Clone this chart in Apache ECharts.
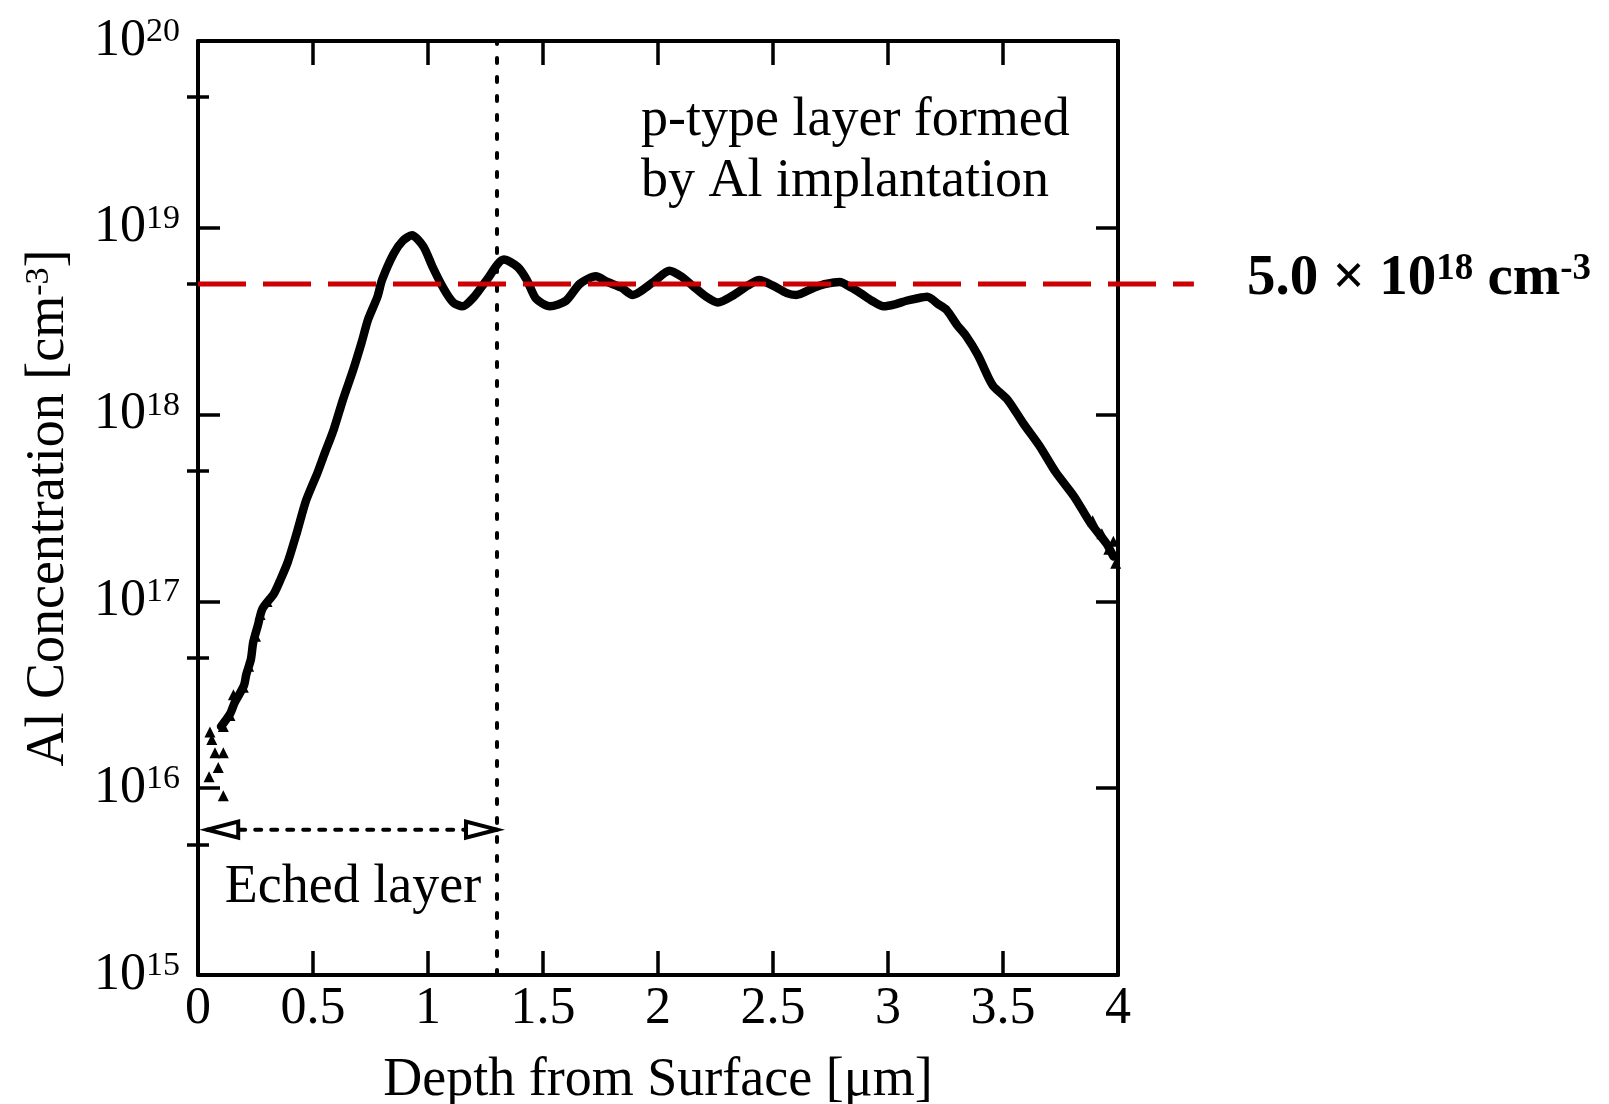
<!DOCTYPE html>
<html>
<head>
<meta charset="utf-8">
<script src="https://cdn.jsdelivr.net/npm/echarts@6/dist/echarts.min.js"></script>
<style>
html,body{margin:0;padding:0;background:#fff;width:1609px;height:1104px;overflow:hidden;}
#chart{width:1609px;height:1104px;display:block;}
</style>
</head>
<body>
<div id="chart"></div>
<script>
// ---- data (depth in µm, Al concentration in cm^-3) ----
const depth = [0.10,0.14,0.16,0.20,0.21,0.23,0.24,0.26,0.28,0.33,0.36,0.39,0.43,0.47,0.52,0.55,0.59,0.63,0.675,0.71,
  0.74,0.78,0.80,0.85,0.89,0.93,0.98,1.02,1.07,1.11,1.15,1.20,1.255,1.33,1.39,1.43,1.47,1.53,1.60,1.66,
  1.73,1.78,1.84,1.89,1.98,2.05,2.10,2.15,2.21,2.26,2.33,2.39,2.44,2.50,2.56,2.60,2.68,2.73,2.79,2.84,
  2.88,2.93,2.98,3.03,3.08,3.12,3.17,3.22,3.255,3.30,3.34,3.39,3.44,3.46,3.52,3.59,3.66,3.73,3.81,3.88,
  3.95,3.98];
const concentration = [2.14e16,2.51e16,2.88e16,3.55e16,4.07e16,4.90e16,6.03e16,7.41e16,9.12e16,1.10e17,1.32e17,1.62e17,2.34e17,3.47e17,4.90e17,6.17e17,8.32e17,1.20e18,1.74e18,2.40e18,
  3.24e18,4.27e18,5.25e18,7.24e18,8.51e18,9.12e18,7.94e18,6.17e18,4.68e18,3.98e18,3.80e18,4.27e18,5.25e18,6.76e18,6.17e18,5.25e18,4.17e18,3.80e18,4.07e18,5.01e18,
  5.50e18,5.13e18,4.79e18,4.37e18,5.13e18,5.89e18,5.50e18,4.90e18,4.27e18,3.98e18,4.37e18,4.90e18,5.25e18,4.90e18,4.47e18,4.37e18,4.79e18,5.01e18,5.13e18,4.79e18,
  4.47e18,4.07e18,3.80e18,3.89e18,4.07e18,4.17e18,4.27e18,3.89e18,3.63e18,3.02e18,2.63e18,2.09e18,1.55e18,1.41e18,1.20e18,8.91e17,6.76e17,4.90e17,3.63e17,2.63e17,
  2.04e17,1.74e17];
// scattered individual SIMS points (triangles) at the noisy ends
const scatterDepth = [0.048,0.11,0.088,0.074,0.11,0.06,0.052,0.11,0.139,0.154,0.197,0.22,0.25,0.27,0.30,3.96,3.99,3.98,3.93,3.89];
const scatterConc  = [1.15e16,9.1e15,1.29e16,1.55e16,1.55e16,1.82e16,2.0e16,2.14e16,2.45e16,3.16e16,3.47e16,4.5e16,6.5e16,8.5e16,1.0e17,1.9e17,1.6e17,2.1e17,2.3e17,2.7e17];

const xTicks = [0,0.5,1,1.5,2,2.5,3,3.5,4];
const yMin = 1e15, yMax = 1e20;
const minorTickValues = [5e15,5e16,5e17,5e18,5e19];
const thresholdValue = 5e18;           // 5.0 x 10^18 cm^-3
const thresholdLineEnd = 4.33;         // dashed line runs past the frame
const etchDepth = 1.3;                 // etched layer thickness
const arrowLevel = 6e15;
const arrowStart = 0.04;

const FONT = '"Liberation Serif", "Times New Roman", serif';

const chart = echarts.init(document.getElementById('chart'), null, {renderer:'canvas', width:1609, height:1104});

const minorExp = minorTickValues.map(v => Math.log10(v));

const option = {
  backgroundColor:'#fff',
  animation:false,
  grid:{left:198, right:491, top:41, bottom:129, containLabel:false, outerBoundsMode:'none'},
  xAxis:[
    {type:'value', position:'bottom', min:xTicks[0], max:xTicks[xTicks.length-1], interval:0.5,
     axisLine:{show:true, onZero:false, lineStyle:{color:'#000', width:4}},
     axisTick:{show:true, inside:true, length:24, lineStyle:{color:'#000', width:3.5}},
     splitLine:{show:false},
     axisLabel:{color:'#000', fontFamily:FONT, fontSize:52, margin:8,
       formatter: v => String(v)},
     name:'Depth from Surface [μm]', nameLocation:'middle', nameGap:79,
     nameTextStyle:{color:'#000', fontFamily:FONT, fontSize:54}},
    {type:'value', position:'top', min:xTicks[0], max:xTicks[xTicks.length-1], interval:0.5,
     axisLine:{show:true, onZero:false, lineStyle:{color:'#000', width:4}},
     axisTick:{show:true, inside:true, length:24, lineStyle:{color:'#000', width:3.5}},
     splitLine:{show:false}, axisLabel:{show:false}}
  ],
  yAxis:[
    {type:'log', logBase:10, position:'left', min:yMin, max:yMax,
     axisLine:{show:true, onZero:false, lineStyle:{color:'#000', width:4}},
     axisTick:{show:true, inside:true, length:22, lineStyle:{color:'#000', width:3.5}},
     splitLine:{show:false},
     axisLabel:{color:'#000', fontFamily:FONT, margin:18,
       formatter: v => '{b|10}{s|' + Math.round(Math.log10(v)) + '}',
       rich:{
         b:{fontFamily:FONT, fontSize:52, color:'#000', lineHeight:52},
         s:{fontFamily:FONT, fontSize:34, color:'#000', verticalAlign:'top', lineHeight:34}
       }},
     name:'Al Concentration [cm{s|-3}]', nameLocation:'middle', nameRotate:90, nameGap:122,
     nameTextStyle:{color:'#000', fontFamily:FONT, fontSize:54,
       rich:{s:{fontFamily:FONT, fontSize:34, color:'#000', verticalAlign:'top', lineHeight:34}}}},
    {type:'log', logBase:10, position:'right', min:yMin, max:yMax,
     axisLine:{show:true, onZero:false, lineStyle:{color:'#000', width:4}},
     axisTick:{show:true, inside:true, length:22, lineStyle:{color:'#000', width:3.5}},
     splitLine:{show:false}, axisLabel:{show:false}},
    {type:'value', position:'left', min:15, max:20,
     axisLine:{show:false}, splitLine:{show:false}, axisLabel:{show:false},
     axisTick:{show:true, inside:true, length:11, customValues:minorExp, lineStyle:{color:'#000', width:3.5}}},
    {type:'value', position:'right', min:15, max:20,
     axisLine:{show:false}, splitLine:{show:false}, axisLabel:{show:false},
     axisTick:{show:true, inside:true, length:11, customValues:minorExp, lineStyle:{color:'#000', width:3.5}}}
  ],
  series:[
    {type:'line', name:'etch boundary', xAxisIndex:0, yAxisIndex:0,
     data:[[etchDepth, yMin],[etchDepth, yMax]], showSymbol:false, silent:true, z:1,
     lineStyle:{color:'#000', width:4, type:[5,14], cap:'round'}},
    {type:'line', name:'etched arrow', xAxisIndex:0, yAxisIndex:0,
     data:[[arrowStart, arrowLevel],[etchDepth, arrowLevel]], showSymbol:false, silent:true, z:1,
     lineStyle:{color:'#000', width:4, type:[6,10], cap:'round'}},
    {type:'line', name:'Al', xAxisIndex:0, yAxisIndex:0,
     data: depth.map((d,i) => [d, concentration[i]]),
     showSymbol:false, smooth:0.25, z:3,
     lineStyle:{color:'#000', width:8.5, join:'round', cap:'round'}},
    {type:'scatter', name:'Al points', xAxisIndex:0, yAxisIndex:0,
     data: scatterDepth.map((d,i) => [d, scatterConc[i]]),
     symbol:'triangle', symbolSize:11, itemStyle:{color:'#000', opacity:1}, z:3}
  ]
};
chart.setOption(option);

// annotations, arrow heads and threshold line placed via the chart's own coordinate conversion
const pL = chart.convertToPixel({xAxisIndex:0, yAxisIndex:0}, [arrowStart, arrowLevel]);
const pR = chart.convertToPixel({xAxisIndex:0, yAxisIndex:0}, [etchDepth, arrowLevel]);
const pS = chart.convertToPixel({xAxisIndex:0, yAxisIndex:0}, [0, thresholdValue]);
const pT = chart.convertToPixel({xAxisIndex:0, yAxisIndex:0}, [thresholdLineEnd, thresholdValue]);
const aLen = 31, aHalf = 8;

chart.setOption({
  graphic:[
    {type:'line', z:50, shape:{x1:pS[0], y1:pS[1], x2:pT[0], y2:pT[1]},
     style:{stroke:'#cc0000', lineWidth:5, lineDash:[48,17]}},
    {type:'polygon', z:100, shape:{points:[[pL[0], pL[1]],[pL[0]+aLen, pL[1]-aHalf],[pL[0]+aLen, pL[1]+aHalf]]},
     style:{fill:'#fff', stroke:'#000', lineWidth:4, lineJoin:'miter'}},
    {type:'polygon', z:100, shape:{points:[[pR[0], pR[1]],[pR[0]-aLen, pR[1]-aHalf],[pR[0]-aLen, pR[1]+aHalf]]},
     style:{fill:'#fff', stroke:'#000', lineWidth:4, lineJoin:'miter'}},
    {type:'text', z:100, style:{x:641, y:121, text:'p-type layer formed', font:'54px ' + FONT, fill:'#000',
      textAlign:'left', textVerticalAlign:'middle', align:'left', verticalAlign:'middle'}},
    {type:'text', z:100, style:{x:641, y:182, text:'by Al implantation', font:'54px ' + FONT, fill:'#000',
      textAlign:'left', textVerticalAlign:'middle', align:'left', verticalAlign:'middle'}},
    {type:'text', z:100, style:{x:353, y:888, text:'Eched layer', font:'54px ' + FONT, fill:'#000',
      textAlign:'center', textVerticalAlign:'middle', align:'center', verticalAlign:'middle'}},
    {type:'text', z:100, style:{x:pT[0] + 53, y:pT[1] - 5,
      text:'{b|5.0 × 10}{s|18}{b| cm}{s|-3}',
      textAlign:'left', textVerticalAlign:'middle', align:'left', verticalAlign:'middle',
      rich:{
        b:{fontFamily:FONT, fontWeight:'bold', fontSize:57, fill:'#000', color:'#000', lineHeight:57},
        s:{fontFamily:FONT, fontWeight:'bold', fontSize:37, fill:'#000', color:'#000', verticalAlign:'top', lineHeight:37}
      }}}
  ]
});
</script>
</body>
</html>
